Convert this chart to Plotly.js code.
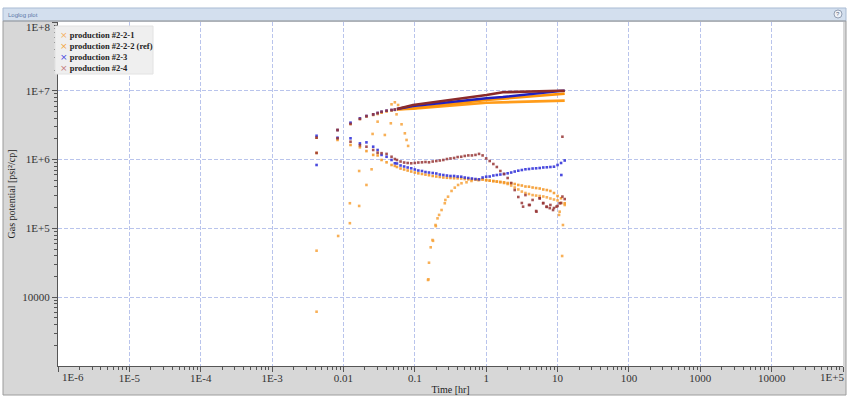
<!DOCTYPE html>
<html>
<head>
<meta charset="utf-8">
<script src="https://cdn.plot.ly/plotly-3.0.1.min.js"></script>
<style>
  html, body { margin: 0; padding: 0; background: #ffffff; }
  #chart { width: 849px; height: 402px; }
</style>
</head>
<body>
<div id="chart"></div>
<script>
// ---- sample times (hr) ----
const tEarly = [0.0042, 0.00826, 0.01256, 0.0170, 0.0210, 0.0261, 0.0301, 0.0342, 0.0402, 0.0472, 0.0525];
const tDense = [0.0562, 0.0631, 0.0708, 0.0794, 0.0891, 0.100, 0.112, 0.126, 0.141, 0.158, 0.178, 0.200,
                0.224, 0.251, 0.282, 0.316, 0.355, 0.398, 0.447, 0.501, 0.562, 0.631, 0.708, 0.794,
                0.891, 1.00, 1.12, 1.26, 1.41, 1.58, 1.78, 2.00, 2.24, 2.51, 2.82, 3.16,
                3.55, 3.98, 4.47, 5.01, 5.62, 6.31, 7.08, 7.94, 8.91, 10.0, 11.2, 12.6];
const tLate = [0.891, 1.00, 1.12, 1.26, 1.41, 1.58, 1.78, 2.00, 2.24, 2.51, 2.82, 3.16,
               3.55, 3.98, 4.47, 5.01, 5.62, 6.31, 7.08, 7.94, 8.91, 10.0, 11.2, 12.6];
const tLine = [0.0562, 0.0946, 1.01, 1.71, 10.7, 12.6];

// ---- production #2-2-1 ----
const p221EarlyT = [0.0042, 0.0123, 0.0166, 0.0210];
const p221Early  = [6150, 1.19e5, 2.12e5, 4.28e5];
const p221Line   = [5.35e6, 5.50e6, 6.71e6, 6.80e6, 7.18e6, 7.20e6];
const d221T = [0.0042, 0.00843, 0.0123, 0.0166, 0.0248, 0.0256, 0.0301, 0.0380, 0.0461, 0.0472, 0.0525,
               0.0555, 0.0583, 0.0652, 0.0725, 0.0766, 0.0806, 0.153, 0.155, 0.158, 0.167, 0.177, 0.180,
               0.195, 0.197, 0.208, 0.219, 0.237, 0.263, 0.268, 0.292, 0.327, 0.363, 0.404, 0.451,
               0.530, 0.622, 0.771];
const d221  = [4.74e4, 7.76e4, 2.32e5, 6.83e5, 7.23e5, 2.36e6, 3.56e6, 2.28e6, 3.37e6, 6.36e6, 6.80e6,
               4.55e6, 6.22e6, 3.26e6, 2.41e6, 1.93e6, 1.58e6, 1.78e4, 1.82e4, 3.17e4, 5.31e4, 6.78e4, 6.60e4,
               1.12e5, 1.08e5, 1.40e5, 1.57e5, 1.85e5, 2.32e5, 2.59e5, 2.89e5, 3.50e5, 3.91e5, 4.28e5, 4.53e5,
               4.68e5, 4.89e5, 5.05e5];
const d221Late = [5.15e5, 5.00e5, 4.93e5, 4.85e5, 4.78e5, 4.68e5, 4.57e5, 4.42e5, 4.20e5, 3.93e5, 3.68e5, 3.43e5,
                  3.27e5, 3.16e5, 3.05e5, 3.00e5, 2.96e5, 2.91e5, 2.83e5, 2.72e5, 2.63e5, 2.55e5, 2.34e5, 2.19e5];
const d221TailT = [10.7, 10.5, 11.9, 11.6];
const d221Tail  = [1.75e5, 1.57e5, 1.12e5, 3.97e4];

// ---- production #2-2-2 (ref) ----
const p222Early = [2.08e6, 2.69e6, 3.30e6, 3.90e6, 4.20e6, 4.45e6, 4.60e6, 4.80e6, 5.00e6, 5.15e6, 5.26e6];
const p222Line  = [5.40e6, 5.57e6, 7.35e6, 7.67e6, 8.98e6, 9.10e6];
const d222Early = [1.25e6, 1.93e6, 1.63e6, 1.51e6, 1.33e6, 1.17e6, 1.15e6, 9.87e5, 9.13e5, 8.35e5, 8.10e5];
const d222 = [7.81e5, 7.42e5, 7.18e5, 6.94e5, 6.71e5, 6.49e5, 6.32e5, 6.18e5, 6.05e5, 5.93e5, 5.78e5, 5.68e5,
              5.59e5, 5.49e5, 5.44e5, 5.40e5, 5.36e5, 5.35e5, 5.31e5, 5.22e5, 5.17e5, 5.15e5, 5.10e5, 5.05e5,
              5.15e5, 5.05e5, 4.96e5, 4.89e5, 4.81e5, 4.75e5, 4.68e5, 4.57e5, 4.53e5, 4.42e5, 4.28e5, 4.20e5,
              4.06e5, 4.04e5, 3.93e5, 3.86e5, 3.80e5, 3.68e5, 3.61e5, 3.50e5, 3.27e5, 2.96e5, 2.74e5, 2.32e5];

// ---- production #2-3 ----
const p23Early = [2.22e6, 2.69e6, 3.44e6, 3.98e6, 4.30e6, 4.55e6, 4.76e6, 4.96e6, 5.14e6, 5.26e6, 5.31e6];
const p23Line  = [5.44e6, 6.01e6, 7.78e6, 8.12e6, 9.93e6, 1.00e7];
const d23Early = [8.35e5, 2.08e6, 2.04e6, 1.72e6, 1.78e6, 1.54e6, 1.38e6, 1.17e6, 1.10e6, 9.87e5, 8.84e5];
const d23 = [8.78e5, 8.21e5, 7.94e5, 7.68e5, 7.47e5, 7.18e5, 6.94e5, 6.83e5, 6.60e5, 6.49e5, 6.39e5, 6.28e5,
             6.07e5, 5.97e5, 5.87e5, 5.78e5, 5.78e5, 5.68e5, 5.64e5, 5.49e5, 5.40e5, 5.31e5, 5.22e5, 5.17e5,
             5.49e5, 5.64e5, 5.68e5, 5.87e5, 5.97e5, 6.07e5, 6.18e5, 6.32e5, 6.49e5, 6.71e5, 6.90e5, 7.06e5,
             7.23e5, 7.30e5, 7.42e5, 7.47e5, 7.55e5, 7.68e5, 7.73e5, 7.81e5, 7.89e5, 8.35e5, 8.93e5, 9.70e5];
const d23TailT = [11.3];
const d23Tail  = [5.97e5];

// ---- production #2-4 ----
const p24Early = [2.08e6, 2.69e6, 3.30e6, 3.90e6, 4.30e6, 4.55e6, 4.76e6, 4.96e6, 5.14e6, 5.26e6, 5.36e6];
const p24Line  = [5.44e6, 6.22e6, 8.69e6, 9.51e6, 1.00e7, 1.00e7];
const d24Early = [1.25e6, 2.04e6, 1.82e6, 1.62e6, 1.54e6, 1.38e6, 1.26e6, 1.24e6, 1.21e6, 1.10e6, 1.02e6];
const d24 = [9.87e5, 9.38e5, 9.07e5, 8.93e5, 8.84e5, 8.93e5, 9.07e5, 9.13e5, 9.23e5, 9.13e5, 9.38e5, 9.54e5,
             9.70e5, 9.87e5, 1.02e6, 1.04e6, 1.055e6, 1.09e6, 1.10e6, 1.13e6, 1.15e6, 1.15e6, 1.17e6, 1.21e6,
             1.15e6, 1.04e6, 9.54e5, 8.63e5, 7.81e5, 6.83e5, 6.18e5, 5.40e5, 4.57e5, 3.61e5, 2.86e5, 2.34e5,
             3.05e5, 2.19e5, 2.59e5, 1.79e5, 2.74e5, 2.34e5, 2.05e5, 2.19e5, 1.98e5, 2.12e5, 2.34e5, 2.67e5];
const d24ScatterT = [3.29, 4.08, 5.06, 5.63, 6.27, 7.00, 7.78, 8.65, 9.66, 10.7, 11.7, 11.7];
const d24Scatter  = [2.07e5, 2.19e5, 1.75e5, 2.74e5, 2.32e5, 2.07e5, 1.97e5, 1.85e5, 2.07e5, 2.32e5, 2.90e5, 2.15e6];

// ---- axis tick labels ----
const xTickVals = [1e-6, 1e-5, 1e-4, 1e-3, 0.01, 0.1, 1, 10, 100, 1000, 10000, 1e5];
const xTickText = ['1E-6', '1E-5', '1E-4', '1E-3', '0.01', '0.1', '1', '10', '100', '1000', '10000', '1E+5'];
const yTickVals = [1e4, 1e5, 1e6, 1e7, 1e8];
const yTickText = ['10000', '1E+5', '1E+6', '1E+7', '1E+8'];

const seriesNames = ['production #2-2-1', 'production #2-2-2 (ref)', 'production #2-3', 'production #2-4'];
const seriesColors = ['#f7a23a', '#f39420', '#2a2ad8', '#963636'];
const lineColors   = ['#ff9c1a', '#ff9408', '#2020c0', '#8a2a2a'];
const legendColors = ['#f5b060', '#f2a640', '#4848e0', '#c47a7a'];

const SERIF = 'Liberation Serif, Times New Roman, serif';

// minor ticks at 2..9 of each decade
function minorTicks(lo, hi) {
  const out = [];
  for (let d = lo; d < hi; d++) for (let k = 2; k <= 9; k++) out.push(k * Math.pow(10, d));
  return out;
}

function dots(x, y, color) {
  return { type: 'scatter', mode: 'markers', x: x, y: y, showlegend: false, hoverinfo: 'skip',
           marker: { symbol: 'square', size: 2.6, color: color, opacity: 0.85 } };
}
function curve(x, y, color) {
  return { type: 'scatter', mode: 'lines', x: x, y: y, showlegend: false, hoverinfo: 'skip',
           line: { color: color, width: 2.6 } };
}

const traces = [
  // #2-2-1
  dots(p221EarlyT, p221Early, seriesColors[0]),
  curve(tLine, p221Line, lineColors[0]),
  dots(d221T, d221, seriesColors[0]),
  dots(tLate, d221Late, seriesColors[0]),
  dots(d221TailT, d221Tail, seriesColors[0]),
  // #2-2-2 (ref)
  dots(tEarly, p222Early, seriesColors[1]),
  curve(tLine, p222Line, lineColors[1]),
  dots(tEarly, d222Early, seriesColors[1]),
  dots(tDense, d222, seriesColors[1]),
  // #2-3
  dots(tEarly, p23Early, seriesColors[2]),
  curve(tLine, p23Line, lineColors[2]),
  dots(tEarly, d23Early, seriesColors[2]),
  dots(tDense, d23, seriesColors[2]),
  dots(d23TailT, d23Tail, seriesColors[2]),
  // #2-4
  dots(tEarly, p24Early, seriesColors[3]),
  curve(tLine, p24Line, lineColors[3]),
  dots(tEarly, d24Early, seriesColors[3]),
  dots(tDense, d24, seriesColors[3]),
  dots(d24ScatterT, d24Scatter, seriesColors[3])
];

// frame geometry (px)
const W = 849, H = 402, ML = 58, MR = 6, MT = 22, MB = 36;
const PW = W - ML - MR, PH = H - MT - MB;
const PX = x => (x - ML) / PW;
const PY = y => (MT + PH - y) / PH;
function box(x0, y0, x1, y1, fill, lineColor, lw) {
  return { type: 'rect', xref: 'paper', yref: 'paper', x0: PX(x0), x1: PX(x1), y0: PY(y1), y1: PY(y0),
           fillcolor: fill, line: { color: lineColor || 'rgba(0,0,0,0)', width: lw || 0 } };
}

const shapes = [
  box(0, 0, W, 8, '#ffffff'),
  box(0, 395, W, H, '#ffffff'),
  box(0, 0, 3, H, '#ffffff'),
  box(846, 0, W, H, '#ffffff'),
  box(3, 8, 846, 21, '#d3dfee', '#a9bbd3', 1),
  box(3, 21, 846, 395, 'rgba(0,0,0,0)', '#9c9c9c', 1),
  // legend box
  box(55, 26, 153, 74, '#efefef', '#e2e2e2', 1),
  // help icon
  { type: 'circle', xref: 'paper', yref: 'paper', x0: PX(834), x1: PX(842), y0: PY(18), y1: PY(10),
    fillcolor: '#eef2f8', line: { color: '#7d8ca3', width: 0.8 } }
];

const tickFont = { family: SERIF, size: 11, color: '#333333' };

// legend: one block of rows, each a coloured cross and a bold label
const legendText = seriesNames.map((name, i) =>
  '<span style="color:' + legendColors[i] + ';font-family:DejaVu Sans;font-size:9px">×</span> <b>' + name + '</b>').join('<br>');

const annotations = [
  { xref: 'paper', yref: 'paper', x: PX(6), y: PY(14.5), xanchor: 'left', yanchor: 'middle', showarrow: false,
    text: 'Loglog plot', font: { family: 'Liberation Sans, Arial, sans-serif', size: 6, color: '#5a78a8' } },
  { xref: 'paper', yref: 'paper', x: PX(838), y: PY(14), xanchor: 'center', yanchor: 'middle', showarrow: false,
    text: '?', font: { family: 'Liberation Sans, Arial, sans-serif', size: 6, color: '#556680' } },
  // end labels kept inside the frame
  { xref: 'paper', yref: 'paper', x: PX(60), y: PY(377), xanchor: 'left', yanchor: 'middle', showarrow: false,
    text: xTickText[0], font: tickFont },
  { xref: 'paper', yref: 'paper', x: PX(846), y: PY(377), xanchor: 'right', yanchor: 'middle', showarrow: false,
    text: xTickText[xTickText.length - 1], font: tickFont },
  { xref: 'paper', yref: 'paper', x: PX(52), y: PY(27), xanchor: 'right', yanchor: 'middle', showarrow: false,
    text: yTickText[yTickText.length - 1], font: tickFont },
  { xref: 'paper', yref: 'paper', x: PX(59), y: PY(29), xanchor: 'left', yanchor: 'top', showarrow: false,
    align: 'left', borderpad: 0, text: legendText, font: { family: SERIF, size: 8.5, color: '#222222' } }
];

const axisCommon = {
  type: 'log',
  showgrid: true, gridcolor: '#b9c4ec', griddash: '4px,2px', gridwidth: 1,
  showline: true, linecolor: '#555555', linewidth: 1,
  ticks: 'outside', ticklen: 5, tickcolor: '#555555',
  zeroline: false,
  tickfont: tickFont
};

// the two end labels on x and the top label on y are drawn as annotations
const xTickShown = xTickText.map((s, i) => (i === 0 || i === xTickText.length - 1) ? '' : s);
const yTickShown = yTickText.map((s, i) => (i === yTickText.length - 1) ? '' : s);

const layout = {
  width: W, height: H,
  margin: { l: ML, r: MR, t: MT, b: MB, pad: 0 },
  paper_bgcolor: '#d7d7d7',
  plot_bgcolor: '#ffffff',
  font: { family: SERIF, color: '#222222' },
  showlegend: false,
  xaxis: Object.assign({}, axisCommon, {
    range: [-6, 5], tickmode: 'array', tickvals: xTickVals, ticktext: xTickShown,
    ticklabelstandoff: -3,
    minor: { tickmode: 'array', tickvals: minorTicks(-6, 5), ticks: 'outside', ticklen: 3, tickcolor: '#555555', showgrid: false },
    title: { text: 'Time [hr]', standoff: 2, font: { family: SERIF, size: 10, color: '#222222' } }
  }),
  yaxis: Object.assign({}, axisCommon, {
    range: [3, 8], tickmode: 'array', tickvals: yTickVals, ticktext: yTickShown,
    minor: { tickmode: 'array', tickvals: minorTicks(3, 8), ticks: 'outside', ticklen: 3, tickcolor: '#555555', showgrid: false },
    title: { text: 'Gas potential [psi²/cp]', standoff: 4, font: { family: SERIF, size: 10, color: '#222222' } }
  }),
  shapes: shapes,
  annotations: annotations
};

Plotly.newPlot('chart', traces, layout, { displayModeBar: false, staticPlot: true });
</script>
</body>
</html>
